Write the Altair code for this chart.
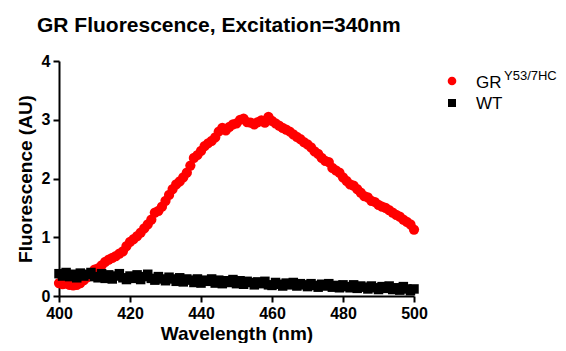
import altair as alt
import pandas as pd

wavelength = list(range(400, 501))

gr_values = [
    0.22, 0.20, 0.21, 0.19, 0.18, 0.19, 0.22, 0.27, 0.32, 0.38,
    0.45, 0.47, 0.52, 0.58, 0.62, 0.65, 0.68, 0.72, 0.76, 0.85,
    0.92, 0.97, 1.02, 1.08, 1.15, 1.22, 1.30, 1.42, 1.45, 1.52,
    1.62, 1.72, 1.82, 1.90, 1.95, 2.02, 2.10, 2.22, 2.35, 2.40,
    2.47, 2.55, 2.60, 2.64, 2.70, 2.80, 2.86, 2.82, 2.88, 2.92,
    2.94, 3.00, 3.02, 2.96, 2.95, 2.92, 2.96, 2.99, 2.95, 3.05,
    2.98, 2.94, 2.90, 2.86, 2.83, 2.80, 2.75, 2.71, 2.67, 2.62,
    2.58, 2.53, 2.46, 2.42, 2.35, 2.30, 2.28, 2.18, 2.14, 2.10,
    2.02, 1.96, 1.90, 1.88, 1.82, 1.76, 1.70, 1.68, 1.62, 1.60,
    1.55, 1.52, 1.50, 1.46, 1.42, 1.38, 1.35, 1.30, 1.26, 1.22,
    1.13,
]

wt_values = [
    0.38, 0.34, 0.40, 0.33, 0.37, 0.31, 0.39, 0.34, 0.37, 0.40,
    0.33, 0.31, 0.38, 0.30, 0.36, 0.29, 0.34, 0.38, 0.31, 0.28,
    0.34, 0.30, 0.36, 0.28, 0.33, 0.37, 0.30, 0.27, 0.33, 0.29,
    0.26, 0.32, 0.29, 0.25, 0.31, 0.24, 0.29, 0.27, 0.23, 0.29,
    0.22, 0.27, 0.25, 0.29, 0.22, 0.27, 0.21, 0.26, 0.23, 0.28,
    0.21, 0.26, 0.20, 0.25, 0.23, 0.19, 0.24, 0.21, 0.25, 0.19,
    0.18, 0.23, 0.20, 0.17, 0.22, 0.19, 0.23, 0.17, 0.21, 0.19,
    0.16, 0.21, 0.18, 0.15, 0.20, 0.17, 0.21, 0.15, 0.18, 0.14,
    0.19, 0.16, 0.14, 0.19, 0.13, 0.17, 0.15, 0.12, 0.17, 0.14,
    0.11, 0.16, 0.13, 0.17, 0.11, 0.14, 0.10, 0.16, 0.12, 0.09,
    0.12,
]

series_names = ["GR", "WT"]
series_colors = ["#FF0000", "#000000"]
series_shapes = ["circle", "square"]

x_ticks = [400, 420, 440, 460, 480, 500]
y_ticks = [0, 1, 2, 3, 4]

FONT = "Liberation Sans"

df = pd.DataFrame({
    "wavelength": wavelength * 2,
    "value": gr_values + wt_values,
    "series": ["GR"] * len(gr_values) + ["WT"] * len(wt_values),
})

x_enc = alt.X("wavelength:Q",
              scale=alt.Scale(domain=[400, 500], nice=False, zero=False),
              axis=alt.Axis(values=x_ticks, title="Wavelength (nm)", grid=False,
                            labelFlush=False))
y_enc = alt.Y("value:Q",
              scale=alt.Scale(domain=[0, 4], nice=False),
              axis=alt.Axis(values=y_ticks, title="Fluorescence (AU)", grid=False,
                            labelFlush=False))

color_scale = alt.Scale(domain=series_names, range=series_colors)
shape_scale = alt.Scale(domain=series_names, range=series_shapes)

red = alt.Chart(df).transform_filter(alt.datum.series == "GR").mark_point(
    filled=True, size=105, opacity=1, clip=False
).encode(
    x=x_enc, y=y_enc,
    color=alt.Color("series:N", scale=color_scale, legend=None),
    shape=alt.Shape("series:N", scale=shape_scale, legend=None),
)

black = alt.Chart(df).transform_filter(alt.datum.series == "WT").mark_point(
    filled=True, size=90, opacity=1, clip=False
).encode(
    x=x_enc, y=y_enc,
    color=alt.Color("series:N", scale=color_scale, legend=None),
    shape=alt.Shape("series:N", scale=shape_scale, legend=None),
)

# custom legend (supports the superscript)
first = alt.Chart(df).transform_filter(alt.datum.wavelength == 400)
leg_red = first.transform_filter(alt.datum.series == "GR").mark_point(
    filled=True, size=75, opacity=1, color="#FF0000", shape="circle"
).encode(x=alt.value(393), y=alt.value(20))
leg_black = first.transform_filter(alt.datum.series == "WT").mark_point(
    filled=True, size=64, opacity=1, color="#000000", shape="square"
).encode(x=alt.value(393), y=alt.value(42))
leg_gr = first.transform_filter(alt.datum.series == "GR").mark_text(
    text="GR", font=FONT, fontSize=17, align="left", baseline="alphabetic", color="#000000"
).encode(x=alt.value(417), y=alt.value(27))
leg_sup = first.transform_filter(alt.datum.series == "GR").mark_text(
    text="Y53/7HC", font=FONT, fontSize=13, align="left", baseline="alphabetic", color="#000000"
).encode(x=alt.value(445), y=alt.value(19))
leg_wt = first.transform_filter(alt.datum.series == "WT").mark_text(
    text="WT", font=FONT, fontSize=17, align="left", baseline="alphabetic", color="#000000"
).encode(x=alt.value(417), y=alt.value(48))

chart = alt.layer(red, black, leg_red, leg_black, leg_gr, leg_sup, leg_wt).properties(
    width=355,
    height=235,
    title=alt.TitleParams(
        "GR Fluorescence, Excitation=340nm",
        anchor="start", frame="group", fontSize=21, fontWeight="bold", font=FONT,
        color="#000000", dx=-22, offset=17,
    ),
    autosize=alt.AutoSizeParams(type="none"),
    padding={"left": 51, "top": 53, "right": 144, "bottom": 47},
).configure_view(stroke=None).configure_axis(
    domainColor="#000000", domainWidth=2, tickColor="#000000", tickWidth=2, tickSize=6,
    labelFont=FONT, labelFontSize=16, labelFontWeight="bold", labelColor="#000000",
    titleFont=FONT, titleFontSize=19, titleFontWeight="bold", titleColor="#000000",
).configure_axisX(labelPadding=3, titlePadding=3).configure_axisY(labelPadding=3, titlePadding=6)

chart.save("out.html", embed_options={"renderer": "svg", "actions": False})
